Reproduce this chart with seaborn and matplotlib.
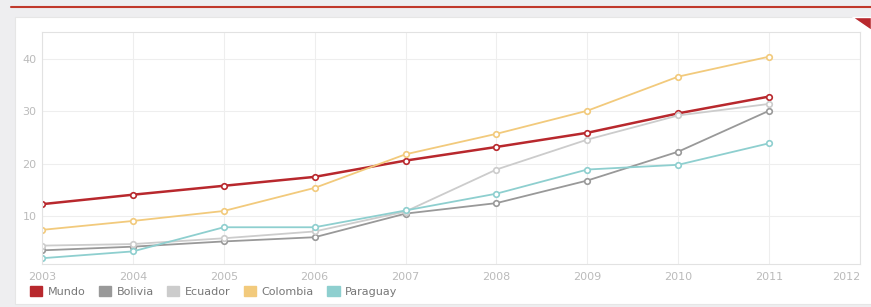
import pandas as pd
import numpy as np
import matplotlib
matplotlib.use('Agg')
import matplotlib.pyplot as plt
import seaborn as sns
from matplotlib.patches import Rectangle, Polygon, FancyBboxPatch

years = [2003, 2004, 2005, 2006, 2007, 2008, 2009, 2010, 2011]
mundo = [12.3, 14.1, 15.8, 17.5, 20.6, 23.2, 25.9, 29.6, 32.8]
bolivia = [3.5, 4.2, 5.2, 6.0, 10.5, 12.5, 16.8, 22.3, 30.1]
ecuador = [4.4, 4.7, 5.8, 7.1, 10.9, 18.9, 24.6, 29.2, 31.4]
colombia = [7.4, 9.1, 11.0, 15.4, 21.8, 25.7, 30.1, 36.6, 40.4]
paraguay = [2.0, 3.3, 7.9, 7.9, 11.1, 14.3, 18.9, 19.8, 23.9]

series = ['Mundo', 'Bolivia', 'Ecuador', 'Colombia', 'Paraguay']
colors = ['#b8282d', '#999999', '#cccccc', '#f2ca7c', '#8ecfcf']
widths = [1.8, 1.3, 1.3, 1.3, 1.3]

df = pd.DataFrame({'year': years, 'Mundo': mundo, 'Bolivia': bolivia,
                   'Ecuador': ecuador, 'Colombia': colombia, 'Paraguay': paraguay})
long = df.melt(id_vars='year', var_name='pais', value_name='valor')

sns.set_style('white')
plt.rcParams['font.family'] = ['DejaVu Sans']

fig = plt.figure(figsize=(8.71, 3.07), dpi=100)
fig.patch.set_facecolor('#eeeef0')

# white card and red top line
fig.patches.append(Rectangle((15 / 871, 0.01), 1, 1 - 17 / 307 - 0.01, transform=fig.transFigure,
                             facecolor='white', edgecolor='#e6e6e6', lw=0.8, zorder=-5))
fig.lines.append(plt.Line2D([11 / 871, 1], [1 - 7 / 307, 1 - 7 / 307], transform=fig.transFigure,
                            color='#c0392b', lw=1.5))
fig.patches.append(Polygon([[852 / 871, 1 - 17 / 307], [1, 1 - 17 / 307], [1, 1 - 30 / 307]],
                           closed=True, transform=fig.transFigure, facecolor='#b8282d', zorder=3))

ax = fig.add_axes([42 / 871, 1 - 264 / 307, (860 - 42) / 871, (264 - 32) / 307])
ax.set_facecolor('white')

for name, c, w in zip(series, colors, widths):
    sub = long[long['pais'] == name]
    sns.lineplot(data=sub, x='year', y='valor', ax=ax, color=c, lw=w, marker='o',
                 markersize=4, markerfacecolor='white', markeredgecolor=c,
                 markeredgewidth=1.2, label=name, legend=False)

ax.set_xlim(2003, 2012)
ax.set_ylim(0.9, 45.1)
ax.set_xticks(range(2003, 2013))
ax.set_yticks([10, 20, 30, 40])
ax.set_xlabel('')
ax.set_ylabel('')
ax.grid(True, color='#eeeeee', lw=0.8)
for s in ax.spines.values():
    s.set_color('#e2e2e2')
    s.set_linewidth(0.8)
ax.tick_params(colors='#bbbbbb', labelsize=8, length=0, pad=6)
ax.tick_params(axis='y', pad=4)
ax.get_xticklabels()[-1].set_horizontalalignment('right')

handles = [FancyBboxPatch((0, 0), 1, 1, boxstyle='round,pad=0.1', facecolor=c, edgecolor=c)
           for c in colors]
fig.legend(handles, series, loc='lower left', bbox_to_anchor=(20 / 871, 0.0), ncol=5,
           frameon=False, fontsize=8, labelcolor='#777777', handlelength=1.1, handleheight=1.0,
           handletextpad=0.5, columnspacing=1.2)

fig.savefig('out.png', dpi=100, facecolor=fig.get_facecolor())
